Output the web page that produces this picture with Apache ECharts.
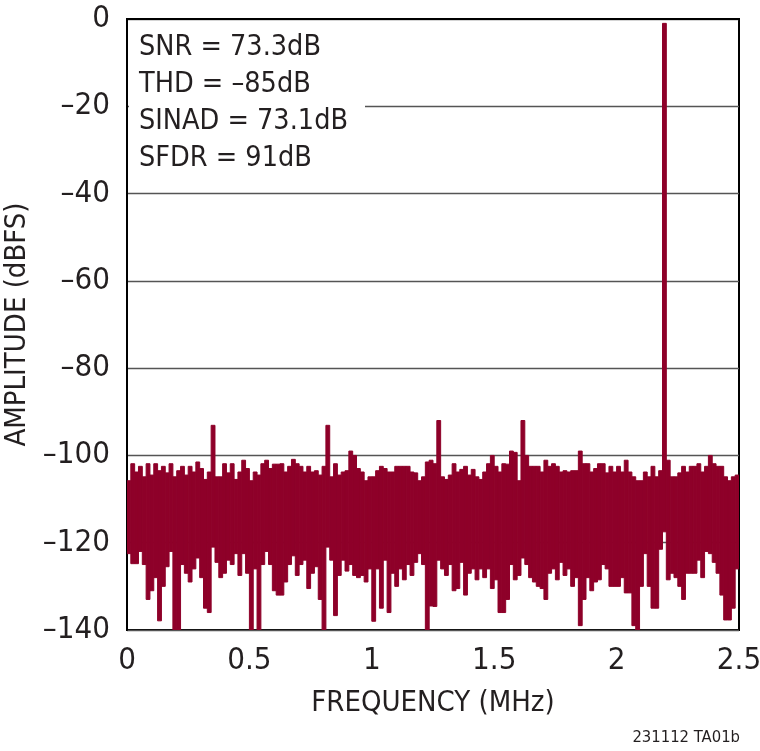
<!DOCTYPE html>
<html>
<head>
<meta charset="utf-8">
<script src="https://cdn.jsdelivr.net/npm/echarts@6/dist/echarts.min.js"></script>
<style>
html,body{margin:0;padding:0;background:#fff;}
#chart{width:760px;height:751px;}
</style>
</head>
<body>
<div id="chart"></div>
<script>
// Frequency span and bin count (each bin drawn as a solid column from its min to its max)
const FREQ_MAX = 2.5;
const BIN_COUNT = 160;
const BIN_WIDTH = FREQ_MAX / BIN_COUNT;

// Peak (top) amplitude of each column, dBFS
const noiseTop = [
-105.8,-101.9,-103.8,-102.5,-104.9,-101.9,-104.5,-101.9,-103.5,-102.5,-104.0,-101.9,-104.9,-103.5,-102.5,-104.5,-102.5,-103.8,-101.5,-103.0,
-105.5,-103.8,-93.1,-104.9,-104.9,-101.9,-104.0,-101.9,-105.5,-103.8,-101.1,-103.0,-105.8,-103.8,-104.5,-101.9,-101.1,-103.0,-102.0,-102.0,
-101.9,-103.8,-102.5,-100.9,-101.9,-102.5,-103.8,-102.5,-103.8,-103.5,-104.5,-102.5,-93.1,-104.9,-101.9,-104.5,-103.8,-103.5,-99.0,-100.0,
-103.0,-103.8,-105.8,-104.9,-104.9,-103.5,-102.5,-103.0,-103.8,-103.8,-102.5,-102.5,-102.5,-102.5,-103.8,-104.0,-105.8,-104.9,-101.5,-101.1,
-101.9,-92.0,-104.9,-105.5,-104.5,-101.9,-103.8,-103.2,-102.5,-104.5,-103.2,-104.9,-105.5,-103.8,-101.9,-100.0,-102.5,-103.8,-101.9,-102.0,
-99.0,-99.3,-105.8,-92.0,-100.0,-102.5,-102.5,-102.5,-103.8,-101.1,-102.5,-101.9,-102.5,-103.8,-103.5,-103.8,-103.5,-103.5,-99.0,-101.9,
-101.9,-103.8,-103.0,-101.9,-101.9,-104.0,-102.5,-103.8,-102.5,-103.8,-101.1,-103.8,-104.9,-105.8,-105.8,-103.8,-104.9,-102.5,-104.9,-103.5,
-1.0,-101.1,-104.9,-104.9,-104.0,-102.5,-103.8,-102.5,-102.5,-101.9,-103.8,-102.5,-100.0,-101.9,-102.5,-102.5,-104.9,-105.8,-104.9,-104.5
];

// Minimum (bottom) amplitude of each column, dBFS
const noiseBottom = [
-122.5,-124.8,-124.8,-122.0,-125.0,-133.0,-131.0,-128.0,-137.9,-130.0,-125.5,-122.0,-140.0,-140.0,-125.0,-127.0,-129.0,-126.0,-123.5,-128.0,
-135.0,-136.0,-121.0,-124.5,-128.0,-127.0,-124.0,-125.0,-122.5,-127.5,-122.5,-127.0,-140.0,-126.0,-140.0,-125.0,-122.0,-125.0,-131.0,-132.0,
-132.0,-129.0,-125.0,-123.0,-127.5,-125.0,-124.0,-130.5,-127.0,-125.5,-133.0,-140.0,-121.0,-124.0,-136.7,-127.5,-124.0,-126.5,-125.0,-127.5,
-128.0,-127.5,-129.0,-126.0,-138.0,-126.0,-135.0,-124.0,-136.0,-127.0,-130.0,-126.0,-128.5,-125.0,-127.5,-124.5,-122.5,-125.0,-140.0,-134.5,
-134.6,-124.0,-126.0,-127.5,-125.0,-131.0,-130.5,-124.5,-132.0,-127.0,-126.0,-128.5,-126.0,-128.0,-126.0,-130.5,-128.5,-136.0,-136.0,-133.0,
-125.0,-128.5,-127.5,-123.5,-125.0,-128.0,-129.0,-130.0,-130.5,-133.0,-127.0,-126.0,-128.5,-124.5,-127.5,-126.0,-130.0,-128.0,-139.0,-133.0,
-128.0,-131.0,-129.0,-128.5,-125.0,-126.0,-130.0,-130.0,-130.0,-128.0,-131.5,-131.5,-139.0,-140.0,-130.0,-122.5,-130.0,-135.0,-135.0,-121.5,
-117.5,-128.5,-127.0,-128.0,-130.0,-133.0,-127.0,-127.0,-127.0,-124.0,-128.0,-122.0,-122.5,-124.5,-127.0,-132.0,-137.7,-137.7,-135.0,-126.0
];

// Axis ticks
const xTicks = [0, 0.5, 1, 1.5, 2, 2.5];
const yTicks = [-140, -120, -100, -80, -60, -40, -20, 0];

// Text annotations
const statLines = ['SNR = 73.3dB', 'THD = \u201385dB', 'SINAD = 73.1dB', 'SFDR = 91dB'];
const xTitle = 'FREQUENCY (MHz)';
const yTitle = 'AMPLITUDE (dBFS)';
const footNote = '231112 TA01b';

const FONT = '"DejaVu Sans Condensed","Liberation Sans Narrow","Liberation Sans",sans-serif';
const COLOR = '#8E0029';
const TEXT = '#231F20';

const data = noiseTop.map((t, i) => [i * BIN_WIDTH, t, noiseBottom[i]]);

const chart = echarts.init(document.getElementById('chart'), null, {renderer: 'canvas'});
chart.setOption({
  animation: false,
  backgroundColor: '#fff',
  grid: {left: 127, right: 21, top: 19, bottom: 121, containLabel: false, outerBoundsMode: 'none',
    show: true, borderColor: '#000', borderWidth: 2, backgroundColor: 'transparent'},
  xAxis: {
    type: 'value', min: xTicks[0], max: xTicks[xTicks.length - 1], interval: 0.5,
    axisLine: {show: true, lineStyle: {color: '#000', width: 2}},
    axisTick: {show: false},
    splitLine: {show: false},
    axisLabel: {color: TEXT, fontFamily: FONT, fontSize: 31, margin: 15},
    name: xTitle, nameLocation: 'middle', nameGap: 59,
    nameTextStyle: {color: TEXT, fontFamily: FONT, fontSize: 29}
  },
  yAxis: {
    type: 'value', min: yTicks[0], max: yTicks[yTicks.length - 1], interval: 20,
    axisLine: {show: true, lineStyle: {color: '#000', width: 2}},
    axisTick: {show: false},
    splitLine: {show: true, lineStyle: {color: '#555', width: 1.3}},
    axisLabel: {color: TEXT, fontFamily: FONT, fontSize: 31, margin: 17,
      formatter: v => v === 0 ? '0' : '\u2013' + Math.abs(v)},
    name: yTitle, nameLocation: 'middle', nameGap: 84, nameRotate: 90,
    nameTextStyle: {color: TEXT, fontFamily: FONT, fontSize: 29}
  },
  graphic: [
    {type: 'rect', z: 10, shape: {x: 129, y: 21, width: 236, height: 163}, style: {fill: '#fff'}},
    {type: 'text', z: 11, left: 139, top: 29, style: {
      text: statLines.join('\n'), fill: TEXT, font: '28.5px ' + FONT, lineHeight: 37}},
    {type: 'text', z: 11, right: 20, top: 729, style: {
      text: footNote, fill: TEXT, font: '16.5px ' + FONT}}
  ],
  series: [{
    type: 'custom',
    data: data,
    encode: {x: 0, y: [1, 2]},
    renderItem: function (params, api) {
      const p0 = api.coord([api.value(0), api.value(1)]);
      const p1 = api.coord([api.value(0) + BIN_WIDTH, api.value(2)]);
      return {
        type: 'rect',
        shape: {x: p0[0], y: p0[1], width: p1[0] - p0[0], height: p1[1] - p0[1]},
        style: {fill: COLOR, stroke: COLOR, lineWidth: 1}
      };
    },
    clip: true
  }]
});
</script>
</body>
</html>
